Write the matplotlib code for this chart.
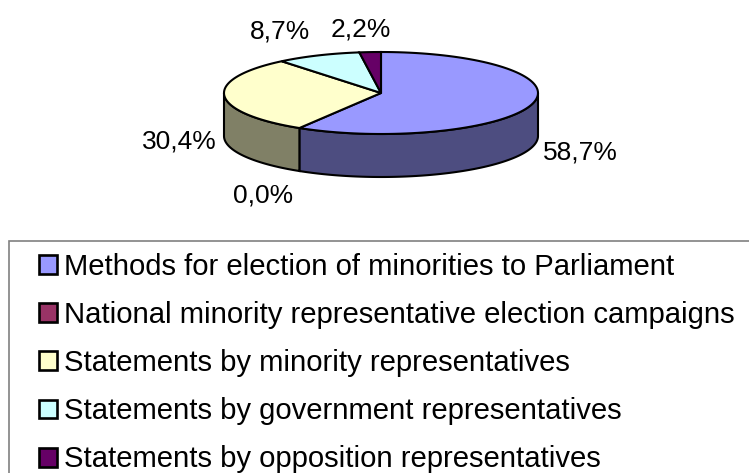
import numpy as np
import matplotlib
matplotlib.use('Agg')
import matplotlib.pyplot as plt
from matplotlib.patches import Patch, Rectangle

plt.rcParams['font.family'] = ['Liberation Sans', 'DejaVu Sans']

categories = ['Methods for election of minorities to Parliament',
              'National minority representative election campaigns',
              'Statements by minority representatives',
              'Statements by government representatives',
              'Statements by opposition representatives']
values = [58.7, 0.0, 30.4, 8.7, 2.2]
top_colors = ['#9999FF', '#993366', '#FFFFCC', '#CCFFFF', '#660066']
side_colors = ['#4D4D80', '#4D1A33', '#808066', '#668080', '#330033']
label_pos = [(580, 152), (263, 195), (179, 141), (280, 32), (361, 30)]

# pie geometry in pixels
cx, cy = 381, 93
rx, ry = 157, 41
depth = 43


def ellipse(a):
    # angles clockwise from the top
    return cx + rx * np.sin(a), cy - ry * np.cos(a)


fig = plt.figure(figsize=(7.49, 4.73), dpi=100)
ax = fig.add_axes([0, 0, 1, 1])
ax.set_xlim(0, 749)
ax.set_ylim(473, 0)
ax.axis('off')

edges = np.radians(np.cumsum([0] + values) * 3.6)

# side wall, only the front half can be seen
for i in range(len(values)):
    a0 = max(edges[i], np.pi / 2)
    a1 = min(edges[i + 1], 3 * np.pi / 2)
    if a1 <= a0:
        continue
    a = np.linspace(a0, a1, 100)
    x, y = ellipse(a)
    ax.fill(np.r_[x, x[::-1]], np.r_[y, y[::-1] + depth],
            facecolor=side_colors[i], edgecolor='black', lw=1.5, zorder=2)

# top face
for i in range(len(values)):
    if values[i] == 0:
        continue
    a = np.linspace(edges[i], edges[i + 1], 100)
    x, y = ellipse(a)
    ax.fill(np.r_[cx, x], np.r_[cy, y],
            facecolor=top_colors[i], edgecolor='black', lw=1.5, zorder=3)

for v, (lx, ly) in zip(values, label_pos):
    ax.text(lx, ly, f'{v:.1f}%'.replace('.', ','), fontsize=19,
            ha='center', va='center', color='black')

# legend frame runs off the right and bottom of the picture
ax.add_patch(Rectangle((9, 241), 800, 300, facecolor='white',
                       edgecolor='#808080', lw=1.2, zorder=1))

handles = [Patch(facecolor=c, edgecolor='black', lw=1.9) for c in top_colors]
leg = ax.legend(handles, categories, loc='upper left',
                bbox_to_anchor=(39 / 749, 1 - 253 / 473), borderaxespad=0,
                fontsize=21.1, frameon=False, labelspacing=0.686,
                handlelength=0.62, handleheight=0.62, handletextpad=0.23,
                borderpad=0)

fig.savefig('out.png', dpi=100)
